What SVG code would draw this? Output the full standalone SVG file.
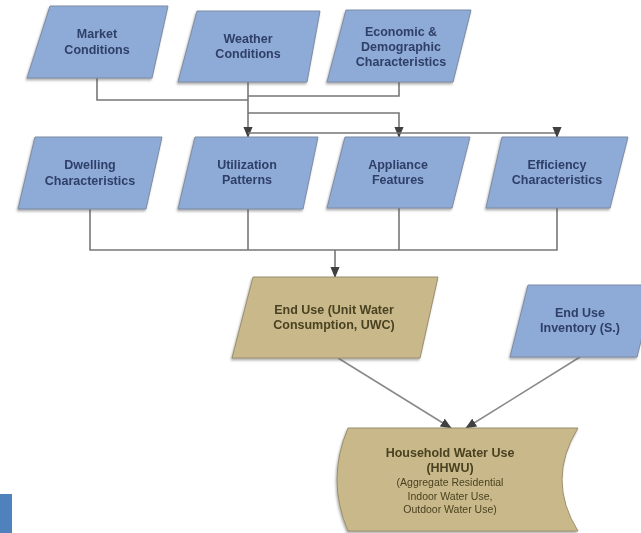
<svg xmlns="http://www.w3.org/2000/svg" width="641" height="533" viewBox="0 0 641 533">
<style>
.blue{fill:#8eaad6;stroke:#7d8ca3;stroke-width:1}
.tan{fill:#c9b98a;stroke:#9a8f6c;stroke-width:1}
.bt{font-family:"Liberation Sans",Arial,sans-serif;font-size:12.5px;font-weight:bold;fill:#2f4068;text-anchor:middle}
.tt{font-family:"Liberation Sans",Arial,sans-serif;font-size:12.5px;font-weight:bold;fill:#4a4221;text-anchor:middle}
.ts{font-family:"Liberation Sans",Arial,sans-serif;font-size:10.5px;fill:#4a4221;text-anchor:middle}
.c{fill:none;stroke:#777;stroke-width:1.6}
.d{fill:none;stroke:#8a8a8a;stroke-width:1.6}
</style>
<defs>
<filter id="sh" x="-10%" y="-10%" width="130%" height="140%">
<feDropShadow dx="-1" dy="2" stdDeviation="1.2" flood-color="#555" flood-opacity="0.45"/>
</filter>
<marker id="ah" viewBox="0 0 12 10" refX="11" refY="5" markerWidth="7" markerHeight="6" markerUnits="strokeWidth" orient="auto">
<path d="M0,0 L12,5 L0,10 Z" fill="#404040"/>
</marker>
</defs>
<rect x="0" y="494" width="12" height="39" fill="#4f81bd"/>
<g id="connectors">
<path class="c" d="M97,78 V100 H248"/>
<path class="c" d="M399,82 V96 H248"/>
<path class="c" d="M248,82 V137" marker-end="url(#ah)"/>
<path class="c" d="M248,113 H399 V137" marker-end="url(#ah)"/>
<path class="c" d="M248,133 H557 V137" marker-end="url(#ah)"/>
<path class="c" d="M90,209 V250 H557 V208"/>
<path class="c" d="M248,209 V250"/>
<path class="c" d="M399,208 V250"/>
<path class="c" d="M335,250 V277" marker-end="url(#ah)"/>
<path class="d" d="M338,358 L451,428" marker-end="url(#ah)"/>
<path class="d" d="M580,357 L466,428" marker-end="url(#ah)"/>
</g>
<g id="market" filter="url(#sh)">
<polygon class="blue" points="50,6 168,6 152,78 27,78"/>
<text class="bt" x="97" y="38">Market</text>
<text class="bt" x="97" y="54">Conditions</text>
</g>
<g id="weather" filter="url(#sh)">
<polygon class="blue" points="197,11 320,11 307,82 178,82"/>
<text class="bt" x="248" y="43">Weather</text>
<text class="bt" x="248" y="58">Conditions</text>
</g>
<g id="economic" filter="url(#sh)">
<polygon class="blue" points="346,10 471,10 453,82 327,82"/>
<text class="bt" x="401" y="36">Economic &amp;</text>
<text class="bt" x="401" y="51">Demographic</text>
<text class="bt" x="401" y="66">Characteristics</text>
</g>
<g id="dwelling" filter="url(#sh)">
<polygon class="blue" points="35,137 162,137 146,209 18,209"/>
<text class="bt" x="90" y="169">Dwelling</text>
<text class="bt" x="90" y="185">Characteristics</text>
</g>
<g id="utilization" filter="url(#sh)">
<polygon class="blue" points="195,137 318,137 303,209 178,209"/>
<text class="bt" x="247" y="169">Utilization</text>
<text class="bt" x="247" y="184">Patterns</text>
</g>
<g id="appliance" filter="url(#sh)">
<polygon class="blue" points="345,137 470,137 452,208 327,208"/>
<text class="bt" x="398" y="169">Appliance</text>
<text class="bt" x="398" y="184">Features</text>
</g>
<g id="efficiency" filter="url(#sh)">
<polygon class="blue" points="502,137 628,137 610,208 486,208"/>
<text class="bt" x="557" y="169">Efficiency</text>
<text class="bt" x="557" y="184">Characteristics</text>
</g>
<g id="enduse" filter="url(#sh)">
<polygon class="tan" points="253,277 438,277 420,358 232,358"/>
<text class="tt" x="334" y="314">End Use (Unit Water</text>
<text class="tt" x="334" y="329">Consumption, UWC)</text>
</g>
<g id="inventory" filter="url(#sh)">
<polygon class="blue" points="528,285 655,285 637,357 510,357"/>
<text class="bt" x="580" y="317">End Use</text>
<text class="bt" x="580" y="332">Inventory (S.)</text>
</g>
<g id="household" filter="url(#sh)">
<path class="tan" d="M348,428 H578 Q546,480 578,531 H348 Q326,480 348,428 Z"/>
<text class="tt" x="450" y="457">Household Water Use</text>
<text class="tt" x="450" y="472">(HHWU)</text>
<text class="ts" x="450" y="486">(Aggregate Residential</text>
<text class="ts" x="450" y="500">Indoor Water Use,</text>
<text class="ts" x="450" y="513">Outdoor Water Use)</text>
</g>
</svg>
